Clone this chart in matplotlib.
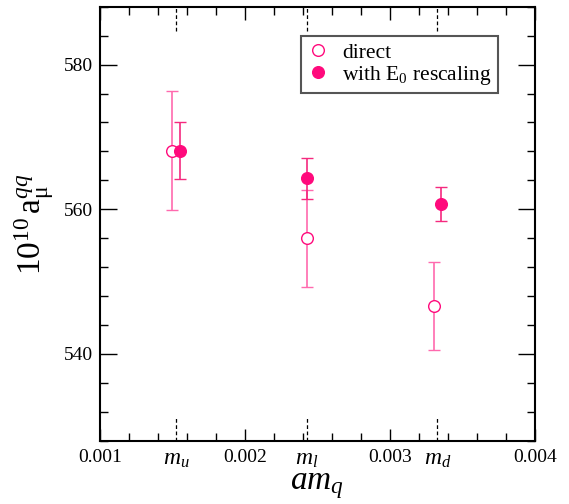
import matplotlib
matplotlib.use("Agg")
import matplotlib.pyplot as plt
import matplotlib.transforms as mtransforms
from matplotlib.ticker import MultipleLocator
from matplotlib.lines import Line2D

plt.rcParams['font.family'] = ['Liberation Serif', 'DejaVu Serif']
plt.rcParams['mathtext.fontset'] = 'custom'
plt.rcParams['mathtext.rm'] = 'Liberation Serif'
plt.rcParams['mathtext.it'] = 'Liberation Serif:italic'
plt.rcParams['mathtext.bf'] = 'Liberation Serif:bold'

# ---- data ----
mass_names = [r'$m_u$', r'$m_l$', r'$m_d$']
mass_values = [0.001524, 0.002426, 0.003328]
x_direct = [0.001499, 0.002426, 0.003305]
y_direct = [568.1, 556.0, 546.6]
err_direct = [8.2, 6.7, 6.1]
x_rescaled = [0.001550, 0.002426, 0.003353]
y_rescaled = [568.1, 564.3, 560.7]
err_rescaled = [3.95, 2.85, 2.35]
major_xticks = [0.001, 0.002, 0.003, 0.004]
major_xlabels = ['0.001', '0.002', '0.003', '0.004']
major_yticks = [540, 560, 580]
legend_labels = ['direct', r'with E$_0$ rescaling']

W, H, DPI = 569, 504, 100
fig = plt.figure(figsize=(W / DPI, H / DPI), dpi=DPI)
ax = fig.add_axes([100 / W, 1 - 440.7 / H, 434.7 / W, 434 / H])

c_mark = '#FF0A7C'
c_err_fill = '#F5297F'
c_err_open = '#FF6AAE'

ax.errorbar(x_direct, y_direct, yerr=err_direct, fmt='o', ms=8.4,
            mfc='white', mec=c_mark, mew=1.0, ecolor=c_err_open,
            elinewidth=1.2, capsize=4.5, capthick=1.2, zorder=3)
ax.errorbar(x_rescaled, y_rescaled, yerr=err_rescaled, fmt='o', ms=8.4,
            mfc=c_mark, mec=c_mark, mew=1.0, ecolor=c_err_fill,
            elinewidth=1.2, capsize=4.5, capthick=1.2, zorder=4)

ax.set_xlim(0.001, 0.004)
ax.set_ylim(528, 588)

# ticks
all_ticks = major_xticks[:1] + [mass_values[0]] + major_xticks[1:2] + [mass_values[1]] \
    + major_xticks[2:3] + [mass_values[2]] + major_xticks[3:]
all_labels = major_xlabels[:1] + [mass_names[0]] + major_xlabels[1:2] + [mass_names[1]] \
    + major_xlabels[2:3] + [mass_names[2]] + major_xlabels[3:]
ax.set_xticks(all_ticks)
ax.set_xticklabels(all_labels)
ax.xaxis.set_minor_locator(MultipleLocator(0.0002))
ax.set_yticks(major_yticks)
ax.yaxis.set_minor_locator(MultipleLocator(4))
ax.tick_params(which='both', direction='in', top=True, right=True, width=1.0,
               labelsize=14, colors='black')
ax.tick_params(axis='x', which='major', length=9, pad=6)
ax.tick_params(axis='y', which='major', length=12, pad=5)
ax.tick_params(which='minor', length=6)
for t, v in zip(ax.xaxis.get_major_ticks(), all_ticks):
    if v in mass_values:
        t.tick1line.set_visible(False)
        t.tick2line.set_visible(False)
        t.label1.set_fontsize(17)
for s in ax.spines.values():
    s.set_linewidth(1.5)

# dashed special ticks at quark masses
trans = mtransforms.blended_transform_factory(ax.transData, ax.transAxes)
ax.vlines(mass_values, 0, 0.057, transform=trans, colors='black',
          linestyles=(0, (3, 2)), linewidth=0.9)
ax.vlines(mass_values, 1 - 0.057, 1, transform=trans, colors='black',
          linestyles=(0, (3, 2)), linewidth=0.9)

ax.set_xlabel(r'$am_q$', fontsize=24, labelpad=0)
ax.set_ylabel(r'$10^{10}\,\mathrm{a}_{\mathrm{\mu}}^{qq}$', fontsize=24, labelpad=6)

handles = [
    Line2D([], [], ls='none', marker='o', ms=8.4, mfc='white', mec=c_mark, mew=1.0),
    Line2D([], [], ls='none', marker='o', ms=8.4, mfc=c_mark, mec=c_mark, mew=1.0),
]
leg = ax.legend(handles, legend_labels, loc='upper right',
                bbox_to_anchor=(0.915, 0.9325),
                borderaxespad=0, fontsize=15.5, frameon=True, fancybox=False,
                handletextpad=0.6, handlelength=1.0, labelspacing=0.05,
                borderpad=0.3, numpoints=1)
leg.get_frame().set_edgecolor('#555555')
leg.get_frame().set_linewidth(1.5)
leg.get_frame().set_alpha(1)

fig.savefig('out.png', dpi=DPI)
